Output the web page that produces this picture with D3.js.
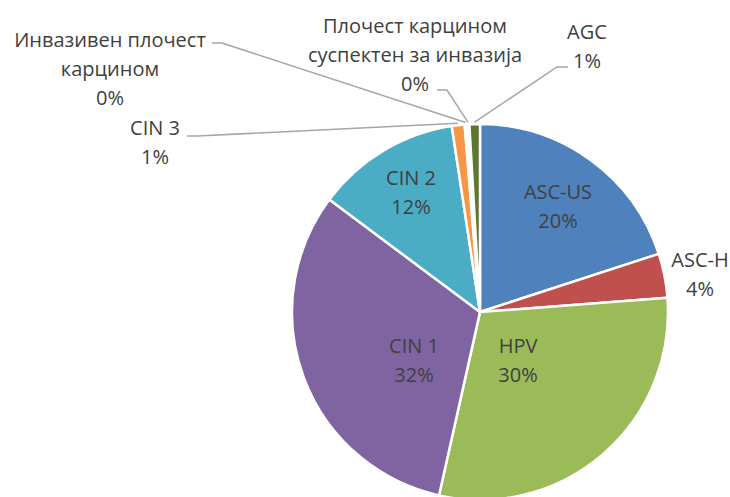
<!DOCTYPE html>
<html><head><meta charset="utf-8">
<script src="https://cdn.jsdelivr.net/npm/d3@7"></script>
<style>
html,body{margin:0;padding:0;background:#fff;}
svg{display:block;}
</style></head>
<body>
<svg id="chart" width="730" height="497"></svg>
<script>
// ---- data ----
const categories = ["ASC-US","ASC-H","HPV","CIN 1","CIN 2","CIN 3","Инвазивен плочест карцином","Плочест карцином суспектен за инвазија","AGC"];
const values = [20.0, 3.8, 29.7, 31.7, 12.4, 1.1, 0.2, 0.2, 0.9];
const labelLines = [["ASC-US"],["ASC-H"],["HPV"],["CIN 1"],["CIN 2"],["CIN 3"],["Инвазивен плочест","карцином"],["Плочест карцином","суспектен за инвазија"],["AGC"]];

// ---- style / layout ----
const colors = ["#4F81BD","#C0504D","#9BBB59","#8064A2","#4BACC6","#F79646","#2C4D75","#772C2A","#5F7530"];
const cx = 480, cy = 312, R = 188;
const lineH = 29;
// label block: x center, y = first baseline; leader = horizontal elbow start/end points
const layout = {
  "ASC-US": {x:558, y:199},
  "ASC-H": {x:700, y:267},
  "HPV": {x:518, y:353},
  "CIN 1": {x:414, y:353},
  "CIN 2": {x:411, y:185},
  "CIN 3": {x:155, y:135, leader:[[187,136],[197,136]]},
  "Инвазивен плочест карцином": {x:110, y:47, leader:[[212,43],[222,43]]},
  "Плочест карцином суспектен за инвазија": {x:415, y:33, leader:[[437,90],[447,90]]},
  "AGC": {x:587, y:39, leader:[[568,67],[557,67]]}
};

const svg = d3.select("#chart");
svg.append("rect").attr("width",730).attr("height",497).attr("fill","#fff");
const total = d3.sum(values);
const data = categories.map((c,i)=>({name:c, value:values[i], lines:labelLines[i], color:colors[i]}));
const pie = d3.pie().value(d=>d.value).sort(null);
const arcs = pie(data);
const arc = d3.arc().innerRadius(0).outerRadius(R);
const g = svg.append("g").attr("transform",`translate(${cx},${cy})`);
g.selectAll("path.slice").data(arcs).join("path")
  .attr("class","slice")
  .attr("d",arc)
  .attr("fill",d=>d.data.color)
  .attr("stroke","#fff").attr("stroke-width",2.5).attr("stroke-linejoin","round");

const leaderArc = d3.arc().innerRadius(R+2).outerRadius(R+2);
const fmt = v => Math.round(v/total*100) + "%";

// leader lines
arcs.forEach(a=>{
  const L = layout[a.data.name];
  if(!L.leader) return;
  const [px,py] = leaderArc.centroid(a);
  const pts = [...L.leader, [px+cx, py+cy]];
  svg.append("path")
    .attr("d", d3.line()(pts))
    .attr("fill","none").attr("stroke","#A6A6A6").attr("stroke-width",1.5);
});

// labels
arcs.forEach(a=>{
  const L = layout[a.data.name];
  const lines = [...a.data.lines, fmt(a.data.value)];
  const t = svg.append("text")
    .attr("text-anchor","middle")
    .attr("font-family","'Open Sans', 'Noto Sans', sans-serif")
    .attr("font-size",20)
    .attr("fill","#404040");
  lines.forEach((s,i)=>{
    t.append("tspan").attr("x",L.x).attr("y",L.y + i*lineH).text(s);
  });
});
</script>
</body></html>
